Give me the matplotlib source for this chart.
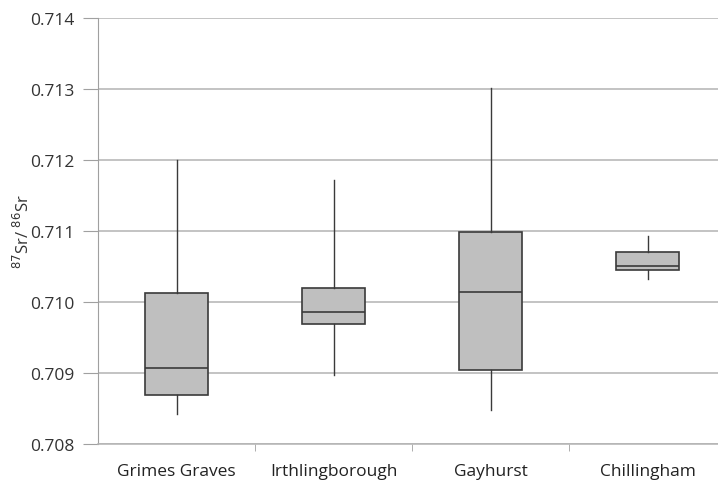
import matplotlib
matplotlib.use("Agg")
import matplotlib.pyplot as plt
import numpy as np

# summary values (87Sr/86Sr)
sites = ["Grimes Graves", "Irthlingborough", "Gayhurst", "Chillingham"]
whisker_low = [0.70842, 0.70897, 0.70848, 0.71033]
q1 = [0.70869, 0.70969, 0.70904, 0.71045]
median = [0.70907, 0.70986, 0.71014, 0.71051]
q3 = [0.71012, 0.71020, 0.71099, 0.71071]
whisker_high = [0.71200, 0.71172, 0.71302, 0.71093]

plt.rcParams['font.family'] = ['Open Sans', 'DejaVu Sans']

fig = plt.figure(figsize=(7.18, 4.81), dpi=100)
# axes run past the right edge of the picture, as in the original
ax = fig.add_axes([98/718, 36/481, 628/718, 426/481])

stats = []
for i, s in enumerate(sites):
    stats.append({"label": s, "whislo": whisker_low[i], "q1": q1[i], "med": median[i],
                  "q3": q3[i], "whishi": whisker_high[i], "fliers": []})

pos = np.arange(1, len(sites) + 1)
ax.bxp(stats, positions=pos, widths=0.4, patch_artist=True, showcaps=False,
       boxprops=dict(facecolor="#bfbfbf", edgecolor="#3a3a3a", linewidth=1.2),
       medianprops=dict(color="#3a3a3a", linewidth=1.2),
       whiskerprops=dict(color="#3a3a3a", linewidth=1.0),
       zorder=3)

ax.set_xlim(0.5, len(sites) + 0.5)
ax.set_ylim(0.708, 0.714)
ax.set_yticks(np.arange(0.708, 0.7141, 0.001))
ax.set_yticklabels(["%.3f" % v for v in np.arange(0.708, 0.7141, 0.001)], fontsize=12.5, color="#333333")
ax.yaxis.grid(True, color="#b3b3b3", linewidth=1.1, zorder=0)
ax.set_axisbelow(True)

# labels at category centres, tick marks at category boundaries
ax.set_xticks(pos)
ax.set_xticklabels(sites, fontsize=12.5, color="#222222")
ax.tick_params(axis="x", which="major", length=0, pad=14)
ax.set_xticks(np.arange(1.5, len(sites) + 0.5, 1), minor=True)
ax.tick_params(axis="x", which="minor", length=5, color="#a0a0a0", direction="out")
ax.tick_params(axis="y", length=11, color="#a0a0a0", direction="out", pad=6)

for side in ["top", "right"]:
    ax.spines[side].set_visible(False)
ax.spines["left"].set_color("#a0a0a0")
ax.spines["bottom"].set_color("#b3b3b3")
ax.spines["bottom"].set_linewidth(1.1)

ax.set_ylabel(r"$^{87}$Sr/ $^{86}$Sr", fontsize=12, color="#333333", labelpad=-2)

fig.savefig("out.png", dpi=100)
